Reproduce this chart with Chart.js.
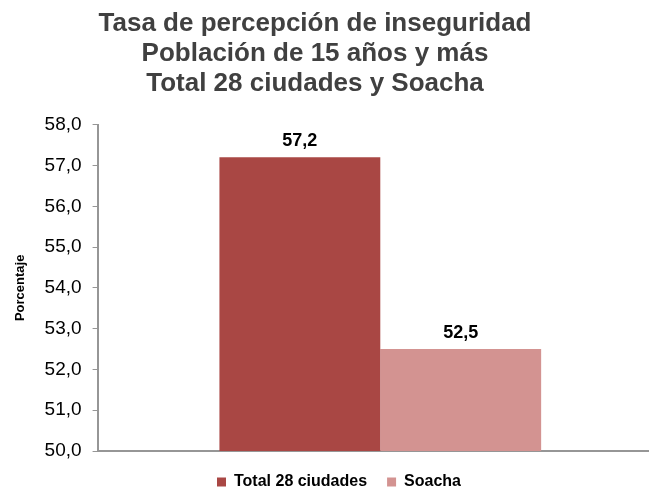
<!DOCTYPE html>
<html>
<head>
<meta charset="utf-8">
<script src="https://cdn.jsdelivr.net/npm/chart.js@4"></script>
<style>
  html, body { margin: 0; padding: 0; background: #fff; overflow: hidden; }
  #wrap { width: 649px; height: 489px; overflow: hidden; }
</style>
</head>
<body>
<div id="wrap"><canvas id="myChart"></canvas></div>
<script>
var categories = [''];
var seriesNames = ['Total 28 ciudades', 'Soacha'];
var totalValues = [57.2];
var soachaValues = [52.5];
var yTicks = [50, 51, 52, 53, 54, 55, 56, 57, 58];

function fmt(v) {
    return v.toFixed(1).replace('.', ',');
}

// valores encima de cada barra
var barLabels = {
    id: 'barLabels',
    afterDatasetsDraw: function(chart) {
        var ctx = chart.ctx;
        ctx.save();
        ctx.font = 'bold 18px "Liberation Sans", Arial, sans-serif';
        ctx.fillStyle = '#000';
        ctx.textAlign = 'center';
        ctx.textBaseline = 'bottom';
        chart.data.datasets.forEach(function(ds, i) {
            chart.getDatasetMeta(i).data.forEach(function(bar, j) {
                ctx.fillText(fmt(ds.data[j]), bar.x, bar.y - 7);
            });
        });
        ctx.restore();
    }
};

// el titulo y la leyenda no estan centrados igual en el original
var nudge = {
    id: 'nudge',
    afterLayout: function(chart) {
        chart.titleBlock.left = 0;
        chart.titleBlock.right = 630;
        var h = chart.legend.bottom - chart.legend.top;
        chart.legend.left = 29;
        chart.legend.right = 649;
        chart.legend.top = 454;
        chart.legend.bottom = 454 + h;
    }
};

const data = {
    labels: categories,
    datasets: [{
        label: seriesNames[0],
        backgroundColor: '#A94744',
        data: totalValues
    }, {
        label: seriesNames[1],
        backgroundColor: '#D39391',
        data: soachaValues
    }]
};

const config = {
    type: 'bar',
    data: data,
    options: {
        responsive: false,
        animation: false,
        layout: { padding: { left: 13, right: 0, top: 0, bottom: -10 } },
        datasets: { bar: { categoryPercentage: 0.569, barPercentage: 1.0 } },
        plugins: {
            title: {
                display: true,
                text: ['Tasa de percepción de inseguridad', 'Población de 15 años y más', 'Total 28 ciudades y Soacha'],
                color: '#404040',
                font: { family: '"Liberation Sans", Arial, sans-serif', size: 26, weight: 'bold', lineHeight: 1.15 },
                padding: { top: 9, bottom: 26 }
            },
            legend: {
                position: 'bottom',
                labels: {
                    color: '#000',
                    boxWidth: 9,
                    boxHeight: 9,
                    padding: 20,
                    font: { family: '"Liberation Sans", Arial, sans-serif', size: 16, weight: 'bold' }
                }
            },
            tooltip: { enabled: false }
        },
        scales: {
            x: {
                ticks: { display: false },
                grid: { display: false },
                border: { color: '#969696', width: 2 },
                afterFit: function(axis) { axis.height = 2; }
            },
            y: {
                min: 50,
                max: 58,
                afterBuildTicks: function(axis) {
                    axis.ticks = yTicks.map(function(v) { return { value: v }; });
                },
                ticks: {
                    color: '#000',
                    padding: 11,
                    font: { family: '"Liberation Sans", Arial, sans-serif', size: 19 },
                    callback: function(v) { return fmt(v); }
                },
                grid: { drawOnChartArea: false, tickLength: 5, color: '#969696', lineWidth: 1 },
                border: { color: '#969696', width: 2 },
                title: {
                    display: true,
                    text: 'Porcentaje',
                    color: '#000',
                    padding: { top: 0, bottom: 5 },
                    font: { family: '"Liberation Sans", Arial, sans-serif', size: 13, weight: 'bold' }
                }
            }
        }
    },
    plugins: [barLabels, nudge]
};

var cv = document.getElementById('myChart');
cv.width = 663;
cv.height = 489;
const myChart = new Chart(cv, config);
</script>
</body>
</html>
